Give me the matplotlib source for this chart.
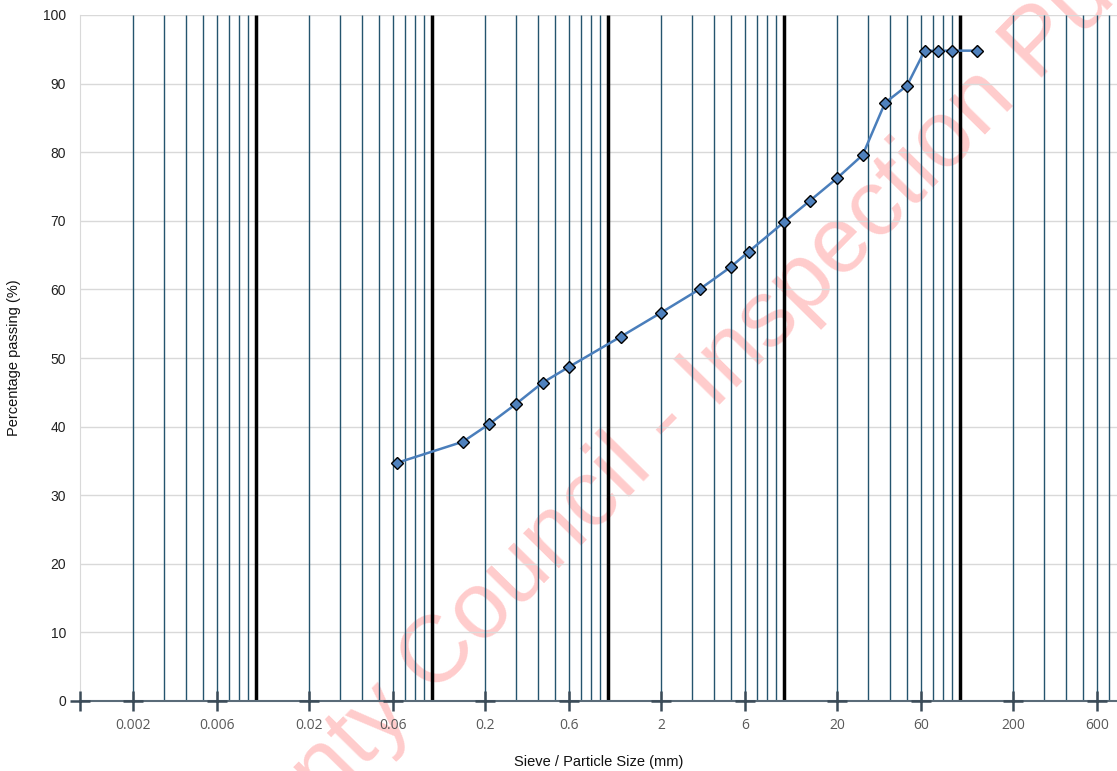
import numpy as np
import matplotlib
matplotlib.use("Agg")
import matplotlib.pyplot as plt

# grading curve: sieve size (mm) vs percentage passing
sizes = [0.063, 0.15, 0.212, 0.3, 0.425, 0.6, 1.18, 2.0, 3.35, 5.0, 6.3,
         10.0, 14.0, 20.0, 28.0, 37.5, 50.0, 63.0, 75.0, 90.0, 125.0]
passing = [34.7, 37.8, 40.4, 43.3, 46.4, 48.7, 53.1, 56.6, 60.1, 63.3, 65.5,
           69.8, 72.9, 76.2, 79.6, 87.2, 89.7, 94.8, 94.8, 94.8, 94.8]

tick_vals = [0.001, 0.002, 0.006, 0.02, 0.06, 0.2, 0.6, 2, 6, 20, 60, 200, 600]
tick_labels = ["", "0.002", "0.006", "0.02", "0.06", "0.2", "0.6", "2", "6",
               "20", "60", "200", "600"]
y_vals = list(range(0, 101, 10))
decades = [0.001, 0.01, 0.1, 1, 10, 100]
thick_lines = [0.01, 0.1, 1, 10, 100]
thin_lines = [m * d for d in decades for m in range(2, 10)]

fig = plt.figure(figsize=(11.17, 7.71), dpi=100, facecolor="white")
ax = fig.add_axes([80 / 1117, 70 / 771, 1037 / 1117, 686 / 771])
ax.set_zorder(1)
ax.patch.set_alpha(0)

fig.text(821 / 1117, 1 - 267 / 771, "County Council - Inspection Purposes Only",
         fontsize=68.5, family="Liberation Sans", color="#ffcccc",
         rotation=45.5, rotation_mode="anchor", ha="center", va="center",
         zorder=0)

ax.set_xscale("log")
ax.set_xlim(0.001, 780)
ax.set_ylim(0, 100)

ax.hlines(y_vals[1:], 0.001, 780, colors="#d9d9d9", lw=1, zorder=0.5)
ax.vlines(thin_lines, 0, 100, colors="#24546e", lw=1.0, zorder=1)
ax.vlines(thick_lines, 0, 100, colors="black", lw=2.5, zorder=1.5)

ax.plot(sizes, passing, color="#4a7ebb", lw=1.8, zorder=3)
ax.plot(sizes, passing, ls="none", marker="D", ms=6.5, mfc="#4f81bd",
        mec="black", mew=1, zorder=4)

ax.set_xticks(tick_vals)
ax.set_xticklabels(tick_labels, family="Open Sans", fontsize=10, color="#595959")
ax.xaxis.set_minor_locator(matplotlib.ticker.NullLocator())
ax.tick_params(axis="x", length=0, pad=12)
# cross-shaped tick marks on the x axis
ax.plot(tick_vals, [0] * len(tick_vals), ls="none", marker="+", ms=14, mew=1.8,
        color="#3b4b58", clip_on=False, zorder=6)

ax.set_yticks(y_vals)
ax.tick_params(axis="y", length=0, pad=10, labelsize=10, labelcolor="#222222")
for lab in ax.get_yticklabels():
    lab.set_family("Liberation Sans")

for s in ["top", "right"]:
    ax.spines[s].set_visible(False)
ax.spines["left"].set_color("#d9d9d9")
ax.spines["bottom"].set_color("#5a6b78")
ax.spines["bottom"].set_linewidth(1.5)
ax.spines["bottom"].set_zorder(5)

ax.set_xlabel("Sieve / Particle Size (mm)", family="Liberation Sans",
              fontsize=10.5, color="#111111", labelpad=16)
ax.set_ylabel("Percentage passing (%)", family="Liberation Sans",
              fontsize=10.5, color="#111111", labelpad=16)

fig.savefig("out.png", dpi=100)
